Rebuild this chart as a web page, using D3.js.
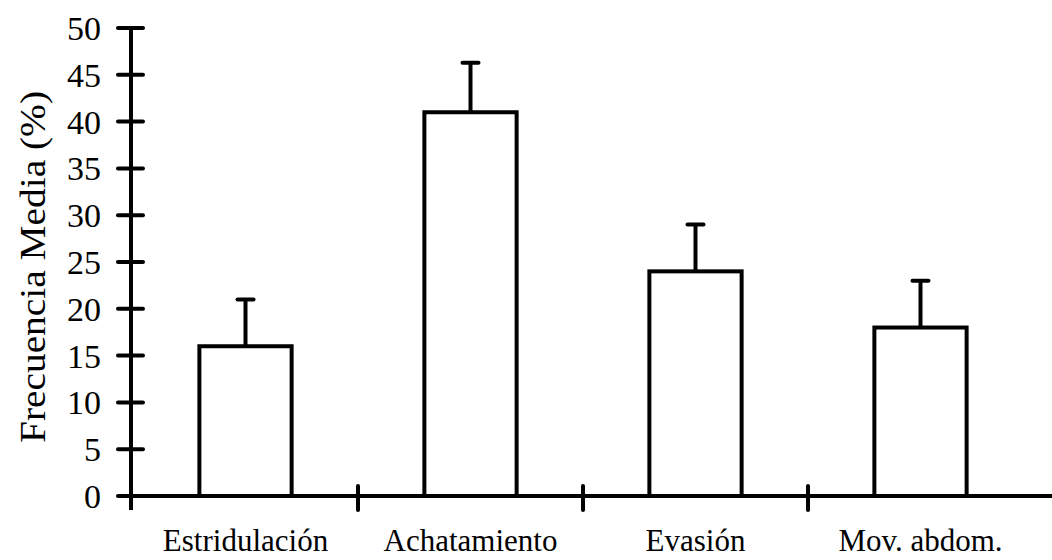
<!DOCTYPE html>
<html><head><meta charset="utf-8">
<script src="https://cdn.jsdelivr.net/npm/d3@7"></script>
<style>body{margin:0;background:#fff}svg{display:block}text{font-family:"Liberation Serif","Times New Roman",serif;fill:#000}</style>
</head><body><svg id="c" width="1052" height="560"></svg>
<script>
const categories = ["Estridulación","Achatamiento","Evasión","Mov. abdom."];
const means = [16, 41, 24, 18];
const errors = [5, 5.3, 5, 5];
const yTicks = [0,5,10,15,20,25,30,35,40,45,50];
const yTitle = "Frecuencia Media (%)";

const svg = d3.select("#c");
const x = d3.scaleBand().domain(categories).range([133, 1033]).paddingInner(0).paddingOuter(0);
const y = d3.scaleLinear().domain([0, 50]).range([496, 28]);
const bw = x.bandwidth() * 0.41;
const ax = 131;

// bars
svg.selectAll("rect.bar").data(categories).join("rect")
  .attr("x", d => x(d) + x.bandwidth()/2 - bw/2)
  .attr("y", (d,i) => y(means[i]))
  .attr("width", bw)
  .attr("height", (d,i) => y(0) - y(means[i]))
  .attr("fill", "#fff").attr("stroke", "#000").attr("stroke-width", 4);

// error bars
const g = svg.append("g").attr("stroke", "#000").attr("stroke-width", 4);
categories.forEach((c,i) => {
  const cx = x(c) + x.bandwidth()/2;
  g.append("line").attr("x1", cx).attr("x2", cx).attr("y1", y(means[i])).attr("y2", y(means[i]+errors[i]));
  g.append("line").attr("x1", cx-8).attr("x2", cx+8).attr("y1", y(means[i]+errors[i])).attr("y2", y(means[i]+errors[i])).attr("stroke-linecap","round");
});

// x axis
svg.append("line").attr("x1", ax).attr("x2", 1052).attr("y1", y(0)).attr("y2", y(0)).attr("stroke","#000").attr("stroke-width",4);
const bounds = categories.slice(1).map(c => x(c));
svg.selectAll("line.xt").data(bounds).join("line")
  .attr("x1", d=>d).attr("x2", d=>d).attr("y1", y(0)-10).attr("y2", y(0)+14)
  .attr("stroke","#000").attr("stroke-width",4).attr("stroke-linecap","round");
svg.selectAll("text.xl").data(categories).join("text")
  .attr("x", d => x(d) + x.bandwidth()/2).attr("y", 551)
  .attr("text-anchor","middle").attr("font-size", 31).text(d => d);

// y axis
svg.append("line").attr("x1", ax).attr("x2", ax).attr("y1", y(50)).attr("y2", y(0)+14).attr("stroke","#000").attr("stroke-width",4);
svg.selectAll("line.yt").data(yTicks).join("line")
  .attr("x1", ax-13).attr("x2", ax+12).attr("y1", d=>y(d)).attr("y2", d=>y(d))
  .attr("stroke","#000").attr("stroke-width",4).attr("stroke-linecap","round");
svg.selectAll("text.yl").data(yTicks).join("text")
  .attr("x", 101).attr("y", d => y(d)).attr("dy", "0.35em")
  .attr("text-anchor","end").attr("font-size", 34).text(d => d);

svg.append("text").attr("transform", "translate(45,267) rotate(-90)")
  .attr("text-anchor","middle").attr("font-size", 36)
  .attr("textLength", 352).attr("lengthAdjust", "spacingAndGlyphs").text(yTitle);
</script></body></html>
